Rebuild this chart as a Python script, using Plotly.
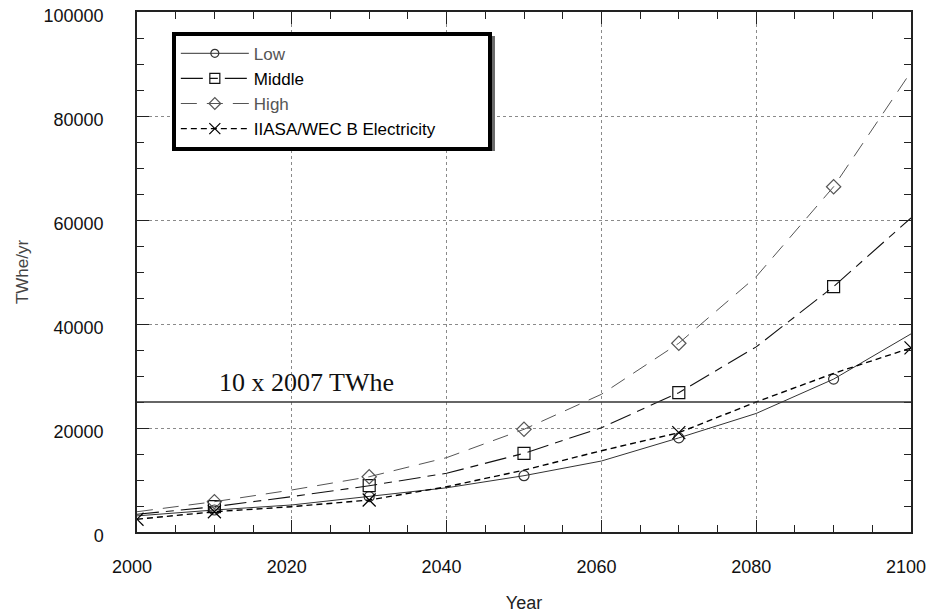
import plotly.graph_objects as go

# ---- data ----
years = [2000, 2010, 2020, 2030, 2040, 2050, 2060, 2070, 2080, 2090, 2100]
low = [3100, 4230, 5200, 6800, 8500, 10830, 13650, 18100, 22800, 29400, 38100]
middle = [3400, 4870, 6800, 8900, 11300, 15130, 20060, 26800, 35600, 47200, 60400]
high = [3900, 5830, 8080, 10630, 14300, 19750, 26480, 36300, 49100, 66400, 88500]
iiasa = [2450, 3900, 4870, 6150, 8700, 11900, 15630, 19100, 25000, 30500, 35400]

scenario_marker_years = [2010, 2030, 2050, 2070, 2090]
iiasa_marker_years = [2000, 2010, 2030, 2070, 2100]

series_names = ["Low", "Middle", "High", "IIASA/WEC B Electricity"]
reference_level = 25000
reference_label = "10 x 2007 TWhe"

x_ticks = [2000, 2020, 2040, 2060, 2080, 2100]
y_ticks = [0, 20000, 40000, 60000, 80000, 100000]

FONT = "Liberation Sans, Arial, sans-serif"
NBSP = "\u00a0"

styles = [
    dict(values=low, color="#333333", dash="solid", width=1.0, symbol="circle-open", size=10,
         myears=scenario_marker_years, text_color="#555555", pad=0),
    dict(values=middle, color="#111111", dash="22px,7px,8px,7px", width=1.1, symbol="square-open", size=12,
         myears=scenario_marker_years, text_color="#000000", pad=0),
    dict(values=high, color="#555555", dash="16px,10px", width=1.0, symbol="diamond-open", size=11,
         myears=scenario_marker_years, text_color="#555555", pad=0),
    dict(values=iiasa, color="#000000", dash="6px,4px", width=1.4, symbol="x-thin-open", size=13,
         myears=iiasa_marker_years, text_color="#000000", pad=10),
]

fig = go.Figure()

for i, (name, st) in enumerate(zip(series_names, styles)):
    vals = st["values"]
    fig.add_trace(go.Scatter(
        x=years, y=vals, mode="lines", showlegend=False, hoverinfo="skip",
        line=dict(color=st["color"], dash=st["dash"], width=st["width"]),
        legendgroup=f"g{i}",
    ))
    mx = [y for y in years if y in st["myears"]]
    my = [v for y, v in zip(years, vals) if y in st["myears"]]
    fig.add_trace(go.Scatter(
        x=mx, y=my, mode="markers", showlegend=False, name=name,
        marker=dict(symbol=st["symbol"], size=st["size"], color=st["color"],
                    line=dict(color=st["color"], width=1.2)),
        legendgroup=f"g{i}",
    ))
    fig.add_trace(go.Scatter(
        x=[None], y=[None], mode="lines+markers",
        name=f"<span style='color:{st['text_color']}'>{name}</span>" + NBSP * st["pad"],
        line=dict(color=st["color"], dash=st["dash"], width=st["width"]),
        marker=dict(symbol=st["symbol"], size=st["size"] - 2, color=st["color"],
                    line=dict(color=st["color"], width=1.2)),
        legendgroup=f"g{i}",
    ))

# legend drop shadow (sits under the legend box)
fig.add_shape(type="rect", xref="paper", yref="paper",
              x0=0.0504, x1=0.4625, y0=0.7327, y1=0.9538,
              fillcolor="#6a6a6a", line=dict(width=0), layer="above")

fig.add_shape(type="line", xref="paper", x0=0, x1=1, yref="y",
              y0=reference_level, y1=reference_level,
              line=dict(color="#333333", width=1.5), layer="above")
fig.add_annotation(x=2010.3, y=reference_level, xref="x", yref="y",
                   text=reference_label, showarrow=False, xanchor="left", yanchor="middle",
                   yshift=20, font=dict(family="Liberation Serif, Times New Roman, serif",
                                        size=26, color="#111111"))

axis_common = dict(
    showline=True, linecolor="#222222", linewidth=1.5, mirror="ticks",
    ticks="inside", ticklen=12, tickcolor="#222222", tickwidth=1,
    showgrid=True, gridcolor="#8a8a8a", griddash="dot", gridwidth=1,
    zeroline=False, ticklabeloverflow="allow",
    tickfont=dict(family=FONT, size=18, color="#111111"),
)

fig.update_xaxes(
    range=[2000, 2100], tickvals=x_ticks, ticktext=[str(v) for v in x_ticks],
    minor=dict(dtick=5, ticks="inside", ticklen=7, tickcolor="#222222", showgrid=False),
    title=dict(text="Year", font=dict(family=FONT, size=18, color="#222222"), standoff=20),
    ticklabelstandoff=18, ticklabelshift=-5,
    **axis_common,
)
fig.update_yaxes(
    range=[0, 100000], tickvals=y_ticks, ticktext=[str(v) for v in y_ticks],
    minor=dict(dtick=5000, ticks="inside", ticklen=7, tickcolor="#222222", showgrid=False),
    title=dict(text="TWhe/yr", font=dict(family=FONT, size=17, color="#444444"), standoff=11),
    ticklabelstandoff=28, ticklabelshift=4,
    **axis_common,
)

fig.update_layout(
    width=929, height=613,
    margin=dict(l=137, r=18, t=12, b=81, autoexpand=False),
    paper_bgcolor="white", plot_bgcolor="white",
    font=dict(family=FONT, size=17, color="#111111"),
    showlegend=True,
    legend=dict(
        x=0.045, y=0.962, xanchor="left", yanchor="top",
        bgcolor="white", bordercolor="#000000", borderwidth=4,
        font=dict(family=FONT, size=17, color="#111111"),
        itemwidth=68, tracegroupgap=0,
        traceorder="grouped",
    ),
)

fig.write_html("out.html", config={"displayModeBar": False},
               post_script="document.body.style.margin='0px';")
